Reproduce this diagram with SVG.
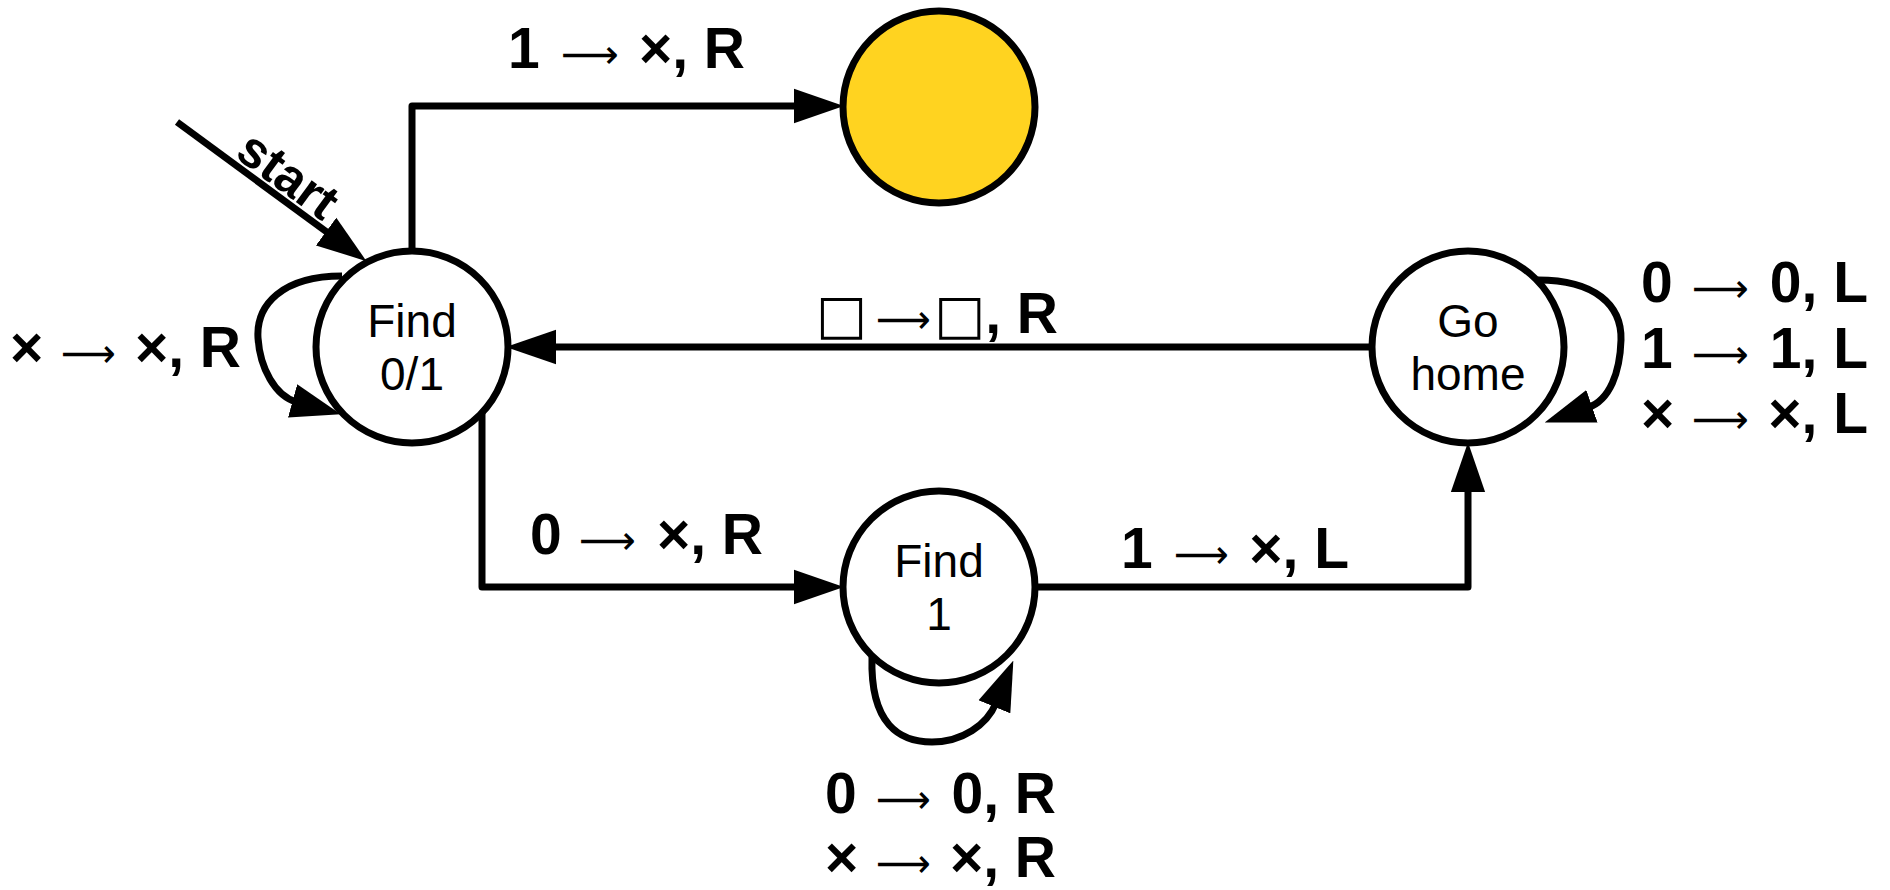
<svg xmlns="http://www.w3.org/2000/svg" width="1890" height="890" viewBox="0 0 1890 890">
  <style>
    .node { fill: #ffffff; stroke: #000000; stroke-width: 7; }
    .accept { fill: #FFD320; stroke: #000000; stroke-width: 7; }
    .ntext { font-family: "Liberation Sans", Arial, sans-serif; font-size: 46px; fill: #000; text-anchor: middle; }
    .edge { fill: none; stroke: #000000; stroke-width: 7; stroke-linejoin: round; marker-end: url(#arrow); }
    .lbl { font-family: "Liberation Sans", Arial, sans-serif; font-size: 57px; font-weight: bold; fill: #000; }
    .end { text-anchor: end; }
    .arr { font-family: "DejaVu Sans", sans-serif; font-weight: normal; font-size: 40px; fill: #000; }
    .box { font-family: "DejaVu Sans", sans-serif; font-weight: bold; font-size: 54px; }
    .start { font-family: "Liberation Sans", Arial, sans-serif; font-size: 51px; font-weight: bold; fill: #000; text-anchor: middle; }
  </style>
  <defs>
    <marker id="arrow" markerUnits="userSpaceOnUse" markerWidth="50" markerHeight="36" refX="4" refY="16.5" orient="auto" viewBox="0 0 48 33">
      <path d="M0,0 L48,16.5 L0,33 Z" fill="#000"/>
    </marker>
  </defs>
  <rect width="1890" height="890" fill="#ffffff"/>

  <g id="connectors">
    <path id="e-start" class="edge" d="M177,122 L329.5,234"/>
    <path id="e-find01-accept" class="edge" d="M412,251 V106 H798"/>
    <path id="e-gohome-find01" class="edge" d="M1371,347 H552"/>
    <path id="e-find01-find1" class="edge" d="M482,413 V587 H798"/>
    <path id="e-find1-gohome" class="edge" d="M1036,587 H1468 V488"/>
    <path id="e-find01-loop" class="edge" d="M342,276 C282,276 256,305 258,338 C260,368 275,396 296.6,402"/>
    <path id="e-find1-loop" class="edge" d="M872,657 C870,725 900,742 932,742 C962,742 987,725 996,703"/>
    <path id="e-gohome-loop" class="edge" d="M1538,280 C1595,280 1622,305 1621,340 C1620,372 1610,400 1588,407.6"/>

    <text class="start" transform="translate(287,177) rotate(36.3)" x="0" y="15">start</text>

    <g id="lbl-find01-accept">
      <text class="lbl" x="508" y="68">1</text>
      <text class="arr" x="561" y="68" textLength="58" lengthAdjust="spacingAndGlyphs">⟶</text>
      <text class="lbl end" x="745" y="68">×, R</text>
    </g>
    <g id="lbl-gohome-find01">
      <text class="lbl" x="816" y="333"><tspan class="box">□</tspan></text>
      <text class="arr" x="876" y="333" textLength="55" lengthAdjust="spacingAndGlyphs">⟶</text>
      <text class="lbl end" x="1058" y="333"><tspan class="box">□</tspan>, R</text>
    </g>
    <g id="lbl-find01-find1">
      <text class="lbl" x="530" y="554">0</text>
      <text class="arr" x="579" y="554" textLength="57" lengthAdjust="spacingAndGlyphs">⟶</text>
      <text class="lbl end" x="763" y="554">×, R</text>
    </g>
    <g id="lbl-find1-gohome">
      <text class="lbl" x="1121" y="568">1</text>
      <text class="arr" x="1174" y="568" textLength="55" lengthAdjust="spacingAndGlyphs">⟶</text>
      <text class="lbl end" x="1349" y="568">×, L</text>
    </g>
    <g id="lbl-find01-loop">
      <text class="lbl" x="10" y="367">×</text>
      <text class="arr" x="61" y="367" textLength="55" lengthAdjust="spacingAndGlyphs">⟶</text>
      <text class="lbl end" x="241" y="367">×, R</text>
    </g>
    <g id="lbl-gohome-loop">
      <text class="lbl" x="1641" y="302">0</text>
      <text class="arr" x="1692" y="302" textLength="57" lengthAdjust="spacingAndGlyphs">⟶</text>
      <text class="lbl end" x="1868" y="302">0, L</text>
      <text class="lbl" x="1641" y="368">1</text>
      <text class="arr" x="1692" y="368" textLength="57" lengthAdjust="spacingAndGlyphs">⟶</text>
      <text class="lbl end" x="1868" y="368">1, L</text>
      <text class="lbl" x="1641" y="433">×</text>
      <text class="arr" x="1692" y="433" textLength="57" lengthAdjust="spacingAndGlyphs">⟶</text>
      <text class="lbl end" x="1868" y="433">×, L</text>
    </g>
    <g id="lbl-find1-loop">
      <text class="lbl" x="825" y="813">0</text>
      <text class="arr" x="876" y="813" textLength="55" lengthAdjust="spacingAndGlyphs">⟶</text>
      <text class="lbl end" x="1056" y="813">0, R</text>
      <text class="lbl" x="825" y="877">×</text>
      <text class="arr" x="876" y="877" textLength="55" lengthAdjust="spacingAndGlyphs">⟶</text>
      <text class="lbl end" x="1056" y="877">×, R</text>
    </g>
  </g>

  <g id="node-find01">
    <circle class="node" cx="412" cy="347" r="96"/>
    <text class="ntext" x="412" y="337">Find</text>
    <text class="ntext" x="412" y="390">0/1</text>
  </g>
  <g id="node-accept">
    <circle class="accept" cx="939" cy="107" r="96"/>
  </g>
  <g id="node-gohome">
    <circle class="node" cx="1468" cy="347" r="96"/>
    <text class="ntext" x="1468" y="337">Go</text>
    <text class="ntext" x="1468" y="390">home</text>
  </g>
  <g id="node-find1">
    <circle class="node" cx="939" cy="587" r="96"/>
    <text class="ntext" x="939" y="577">Find</text>
    <text class="ntext" x="939" y="630">1</text>
  </g>
</svg>
